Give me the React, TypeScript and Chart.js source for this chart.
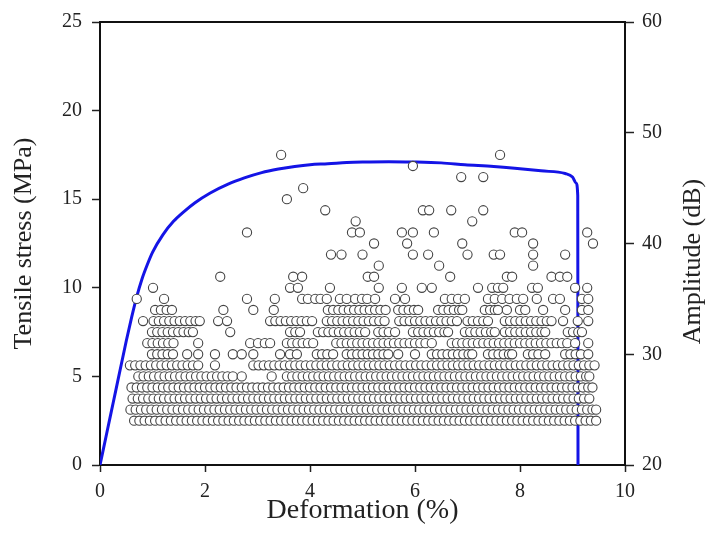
import React, { useEffect, useRef } from "react";
import { Chart, registerables } from "chart.js";

Chart.register(...registerables);

// ---- Titles / ticks ----
const xTitle = "Deformation (%)";
const yTitle = "Tensile stress (MPa)";
const y2Title = "Amplitude (dB)";
const xRange = [0, 10];
const yRange = [0, 25];
const y2Range = [20, 60];

// ---- Stress–strain curve ----
const curveDeformation = [0, 0.1, 0.2, 0.3, 0.4, 0.5, 0.6, 0.7, 0.8, 0.9, 1.0, 1.2, 1.4, 1.6, 1.81, 2.1, 2.44, 2.75, 3.08, 3.4, 3.71, 4.0, 4.34, 4.7, 5.0, 5.5, 5.96, 6.5, 6.95, 7.5, 7.9, 8.4, 8.86, 9.0, 9.07, 9.1, 9.105];
const curveStress = [0, 1.4, 2.8, 4.2, 5.6, 7.0, 8.3, 9.5, 10.5, 11.3, 12.0, 13.0, 13.75, 14.3, 14.8, 15.35, 15.85, 16.2, 16.5, 16.7, 16.85, 16.95, 17.0, 17.07, 17.1, 17.12, 17.1, 17.05, 16.95, 16.85, 16.75, 16.6, 16.45, 16.25, 15.9, 15.2, 0];

// ---- Acoustic emission hits: deformation (%) per amplitude level (dB) ----
const dB24 = [0.65,0.75,0.85,0.95,1.05,1.15,1.25,1.35,1.45,1.55,1.65,1.75,1.85,1.95,2.05,2.15,2.25,2.35,2.45,2.55,2.65,2.75,2.85,2.95,3.05,3.15,3.25,3.35,3.45,3.55,3.65,3.75,3.85,3.95,4.05,4.15,4.25,4.35,4.45,4.55,4.65,4.75,4.85,4.95,5.05,5.15,5.25,5.35,5.45,5.55,5.65,5.75,5.85,5.95,6.05,6.15,6.25,6.35,6.45,6.55,6.65,6.75,6.85,6.95,7.05,7.15,7.25,7.35,7.45,7.55,7.65,7.75,7.85,7.95,8.05,8.15,8.25,8.35,8.45,8.55,8.65,8.75,8.85,8.95,9.05,9.15,9.25,9.35,9.45];
const dB25 = [0.58,0.68,0.78,0.88,0.98,1.08,1.18,1.28,1.38,1.48,1.58,1.68,1.78,1.88,1.98,2.08,2.18,2.28,2.38,2.48,2.58,2.68,2.78,2.88,2.98,3.08,3.18,3.28,3.38,3.48,3.58,3.68,3.78,3.88,3.98,4.08,4.18,4.28,4.38,4.48,4.58,4.68,4.78,4.88,4.98,5.08,5.18,5.28,5.38,5.48,5.58,5.68,5.78,5.88,5.98,6.08,6.18,6.28,6.38,6.48,6.58,6.68,6.78,6.88,6.98,7.08,7.18,7.28,7.38,7.48,7.58,7.68,7.78,7.88,7.98,8.08,8.18,8.28,8.38,8.48,8.58,8.68,8.78,8.88,8.98,9.08,9.18,9.28,9.38,9.45];
const dB26 = [0.62,0.72,0.82,0.92,1.02,1.12,1.22,1.32,1.42,1.52,1.62,1.72,1.82,1.92,2.02,2.12,2.22,2.32,2.42,2.52,2.62,2.72,2.82,2.92,3.02,3.12,3.22,3.32,3.42,3.52,3.62,3.72,3.82,3.92,4.02,4.12,4.22,4.32,4.42,4.52,4.62,4.72,4.82,4.92,5.02,5.12,5.22,5.32,5.42,5.52,5.62,5.72,5.82,5.92,6.02,6.12,6.22,6.32,6.42,6.52,6.62,6.72,6.82,6.92,7.02,7.12,7.22,7.32,7.42,7.52,7.62,7.72,7.82,7.92,8.02,8.12,8.22,8.32,8.42,8.52,8.62,8.72,8.82,8.92,9.02,9.12,9.22,9.32];
const dB27 = [0.6,0.7,0.8,0.9,1.0,1.1,1.2,1.3,1.4,1.5,1.6,1.7,1.8,1.9,2.0,2.1,2.2,2.3,2.4,2.5,2.6,2.7,2.8,2.9,3.0,3.1,3.2,3.3,3.4,3.5,3.6,3.7,3.8,3.9,4.0,4.1,4.2,4.3,4.4,4.5,4.6,4.7,4.8,4.9,5.0,5.1,5.2,5.3,5.4,5.5,5.6,5.7,5.8,5.9,6.0,6.1,6.2,6.3,6.4,6.5,6.6,6.7,6.8,6.9,7.0,7.1,7.2,7.3,7.4,7.5,7.6,7.7,7.8,7.9,8.0,8.1,8.2,8.3,8.4,8.5,8.6,8.7,8.8,8.9,9.0,9.1,9.2,9.3,9.38];
const dB28 = [0.73,0.83,0.93,1.03,1.13,1.23,1.33,1.43,1.53,1.63,1.73,1.83,1.93,2.03,2.13,2.23,2.33,2.43,2.53,2.7,3.27,3.56,3.66,3.76,3.86,3.96,4.06,4.16,4.26,4.36,4.46,4.56,4.66,4.76,4.86,4.96,5.06,5.16,5.26,5.36,5.46,5.56,5.66,5.76,5.86,5.96,6.06,6.16,6.26,6.36,6.46,6.56,6.66,6.76,6.86,6.96,7.06,7.16,7.26,7.36,7.46,7.56,7.66,7.76,7.86,7.96,8.06,8.16,8.26,8.36,8.46,8.56,8.66,8.76,8.86,8.96,9.06,9.16,9.26,9.32];
const dB29 = [0.57,0.67,0.77,0.87,0.97,1.07,1.17,1.27,1.37,1.47,1.57,1.67,1.77,1.87,2.19,2.92,3.02,3.12,3.22,3.32,3.42,3.52,3.62,3.72,3.82,3.92,4.02,4.12,4.22,4.32,4.42,4.52,4.62,4.72,4.82,4.92,5.02,5.12,5.22,5.32,5.42,5.52,5.62,5.72,5.82,5.92,6.02,6.12,6.22,6.32,6.42,6.52,6.62,6.72,6.82,6.92,7.02,7.12,7.22,7.32,7.42,7.52,7.62,7.72,7.82,7.92,8.02,8.12,8.22,8.32,8.42,8.52,8.62,8.72,8.82,8.92,9.02,9.12,9.22,9.32,9.42];
const dB30 = [0.99,1.09,1.19,1.29,1.39,1.66,1.87,2.19,2.53,2.7,2.92,3.43,3.62,3.75,4.13,4.23,4.33,4.44,4.7,4.8,4.9,5.0,5.1,5.2,5.3,5.4,5.49,5.68,6.0,6.32,6.42,6.52,6.62,6.72,6.82,6.92,7.02,7.09,7.39,7.49,7.59,7.69,7.79,7.85,8.15,8.25,8.35,8.48,8.86,8.96,9.06,9.16,9.3];
const dB31 = [0.9,1.0,1.1,1.2,1.3,1.4,1.87,2.86,3.01,3.14,3.24,3.56,3.66,3.76,3.86,3.96,4.06,4.5,4.6,4.7,4.8,4.9,5.0,5.1,5.2,5.3,5.4,5.5,5.6,5.7,5.8,5.9,6.0,6.1,6.2,6.32,6.7,6.8,6.9,7.0,7.1,7.2,7.3,7.4,7.5,7.6,7.7,7.8,7.9,8.0,8.1,8.2,8.3,8.4,8.5,8.6,8.7,8.8,8.9,9.05,9.3];
const dB32 = [0.99,1.09,1.19,1.29,1.39,1.49,1.59,1.69,1.77,2.48,3.62,3.72,3.81,4.15,4.25,4.35,4.45,4.55,4.65,4.75,4.85,4.95,5.05,5.3,5.4,5.5,5.62,5.96,6.06,6.16,6.26,6.36,6.46,6.56,6.63,6.95,7.05,7.15,7.25,7.35,7.45,7.52,7.71,7.81,7.91,8.01,8.11,8.21,8.31,8.41,8.48,8.91,9.01,9.11,9.18];
const dB33 = [0.82,1.02,1.12,1.22,1.32,1.42,1.52,1.62,1.72,1.82,1.9,2.25,2.42,3.24,3.34,3.44,3.54,3.64,3.74,3.84,3.94,4.04,4.32,4.42,4.52,4.62,4.72,4.82,4.92,5.02,5.12,5.22,5.32,5.42,5.7,5.8,5.9,6.0,6.1,6.2,6.3,6.4,6.5,6.6,6.7,6.8,7.0,7.1,7.2,7.3,7.39,7.71,7.81,7.91,8.01,8.11,8.21,8.31,8.41,8.51,8.6,8.82,9.1,9.3];
const dB34 = [1.05,1.16,1.27,1.37,2.35,2.92,3.31,4.34,4.44,4.54,4.64,4.74,4.84,4.94,5.04,5.14,5.24,5.34,5.44,5.68,5.78,5.88,5.98,6.06,6.44,6.54,6.64,6.74,6.84,6.9,7.33,7.43,7.52,7.58,7.75,8.0,8.1,8.44,8.86,9.18,9.3];
const dB35 = [0.7,1.22,2.8,3.33,3.85,3.96,4.1,4.2,4.32,4.57,4.7,4.86,4.99,5.09,5.24,5.62,5.81,6.57,6.7,6.82,6.95,7.39,7.52,7.66,7.8,7.94,8.06,8.32,8.63,8.76,9.18,9.3];
const dB36 = [1.01,3.62,3.77,4.38,5.31,5.75,6.13,6.32,7.2,7.47,7.58,7.68,8.23,8.34,9.05,9.28];
const dB37 = [2.29,3.68,3.85,5.1,5.22,6.67,7.75,7.85,8.6,8.76,8.9];
const dB38 = [5.31,6.46,8.25];
const dB39 = [4.4,4.6,5.0,5.96,6.25,7.0,7.5,7.62,8.25,8.86];
const dB40 = [5.22,5.85,6.9,8.25,9.39];
const dB41 = [2.8,4.8,4.95,5.75,5.96,6.36,7.9,8.04,9.28];
const dB42 = [4.87,7.09];
const dB43 = [4.29,6.15,6.27,6.69,7.3];
const dB44 = [3.56];
const dB45 = [3.87];
const dB46 = [6.88,7.3];
const dB47 = [5.96];
const dB48 = [3.45,7.62];

const amplitudeLevels = [24,25,26,27,28,29,30,31,32,33,34,35,36,37,38,39,40,41,42,43,44,45,46,47,48];
const hitsByLevel = [dB24,dB25,dB26,dB27,dB28,dB29,dB30,dB31,dB32,dB33,dB34,dB35,dB36,dB37,dB38,dB39,dB40,dB41,dB42,dB43,dB44,dB45,dB46,dB47,dB48];

const FONT = '"Liberation Serif", "Times New Roman", serif';
const TEXT = "#222";

export default function App() {
  const ref = useRef<HTMLCanvasElement | null>(null);

  useEffect(() => {
    if (!ref.current) return;
    Chart.defaults.font.family = FONT;

    const curve = curveDeformation.map((x, i) => ({ x, y: curveStress[i] }));
    const hits: { x: number; y: number }[] = [];
    amplitudeLevels.forEach((db, i) => {
      hitsByLevel[i].forEach((x) => hits.push({ x, y: db }));
    });

    const frameTop = {
      id: "frameTop",
      afterDraw(chart: any) {
        const { ctx, chartArea } = chart;
        ctx.save();
        ctx.strokeStyle = "#111";
        ctx.lineWidth = 2;
        ctx.beginPath();
        ctx.moveTo(chartArea.left - 1, chartArea.top);
        ctx.lineTo(chartArea.right + 1, chartArea.top);
        ctx.stroke();
        // right axis title, reading bottom-to-top
        const s = chart.scales.y2;
        ctx.translate(s.right - 13, (chartArea.top + chartArea.bottom) / 2 + 18);
        ctx.rotate(-Math.PI / 2);
        ctx.font = `26px ${FONT}`;
        ctx.fillStyle = TEXT;
        ctx.textAlign = "center";
        ctx.textBaseline = "alphabetic";
        ctx.fillText(y2Title, 0, 0);
        ctx.restore();
      },
    };

    const axisGrid = (len: number) => ({
      display: true,
      drawOnChartArea: false,
      drawTicks: true,
      tickLength: len,
      tickColor: "#222",
      tickWidth: 1.5,
    });
    const axisBorder = { display: true, color: "#111", width: 2 };

    const chart = new Chart(ref.current, {
      data: {
        datasets: [
          {
            type: "line",
            label: "Stress",
            data: curve,
            yAxisID: "y",
            borderColor: "#1414e6",
            borderWidth: 3,
            pointRadius: 0,
            cubicInterpolationMode: "monotone",
            fill: false,
            order: 1,
          },
          {
            type: "scatter",
            label: "Amplitude",
            data: hits,
            yAxisID: "y2",
            pointRadius: 4.6,
            pointBorderWidth: 1.1,
            borderColor: "#444",
            backgroundColor: "#ffffff",
            order: 0,
          },
        ],
      } as any,
      options: {
        responsive: false,
        animation: false,
        layout: { padding: { top: 22, left: 0, right: 0, bottom: 0 } },
        plugins: { legend: { display: false }, tooltip: { enabled: false } },
        scales: {
          x: {
            type: "linear",
            min: xRange[0],
            max: xRange[1],
            ticks: { stepSize: 2, color: TEXT, font: { size: 20 }, padding: 8 },
            grid: axisGrid(7) as any,
            border: axisBorder,
            title: { display: true, text: xTitle, color: TEXT, font: { size: 28 }, padding: { top: 0, bottom: 9 } },
            afterFit: (s: any) => { s.height = 71; },
          },
          y: {
            type: "linear",
            position: "left",
            min: yRange[0],
            max: yRange[1],
            ticks: { stepSize: 5, color: TEXT, font: { size: 20 }, padding: 10 },
            grid: axisGrid(8) as any,
            border: axisBorder,
            title: { display: true, text: yTitle, color: TEXT, font: { size: 26 }, padding: { top: 9, bottom: 0 } },
            afterFit: (s: any) => { s.width = 100; },
          },
          y2: {
            type: "linear",
            position: "right",
            min: y2Range[0],
            max: y2Range[1],
            ticks: { stepSize: 10, color: TEXT, font: { size: 20 }, padding: 8 },
            grid: axisGrid(9) as any,
            border: axisBorder,
            title: { display: false, text: y2Title },
            afterFit: (s: any) => { s.width = 88; },
          },
        },
      } as any,
      plugins: [frameTop],
    });
    return () => chart.destroy();
  }, []);

  return (
    <div style={{ position: "fixed", left: 0, top: 0, width: 713, height: 536, background: "#fff" }}>
      <canvas ref={ref} width={713} height={536} style={{ display: "block" }} />
    </div>
  );
}
